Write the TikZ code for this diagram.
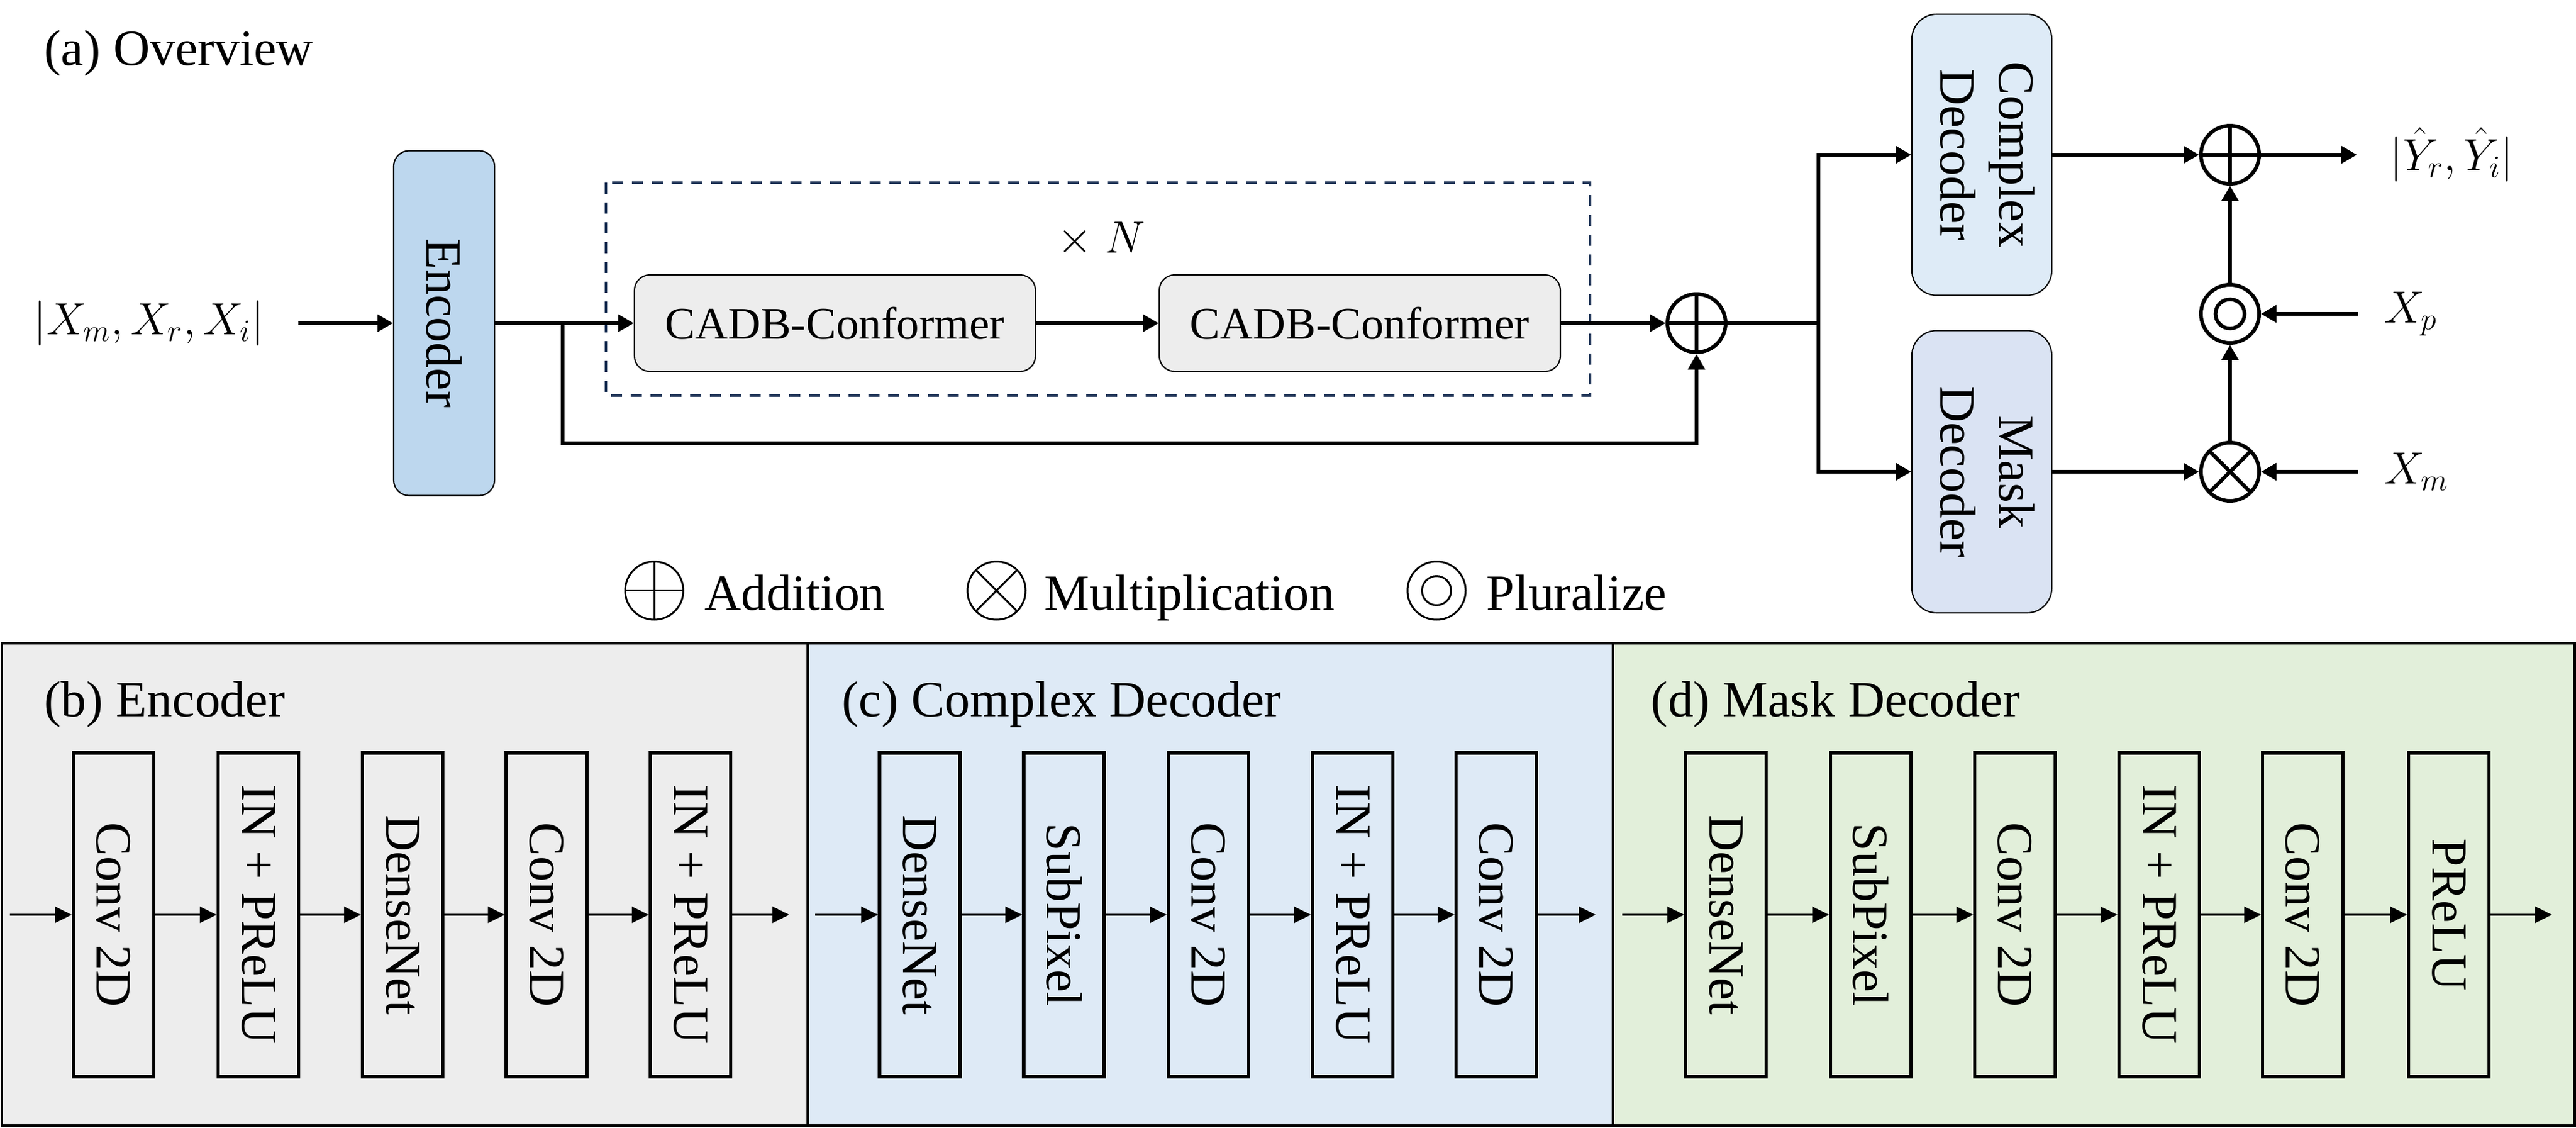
\documentclass[tikz,border=0pt]{standalone}
\usepackage{fontspec}
\setmainfont{Liberation Serif}
\usepackage{graphicx}
\usetikzlibrary{arrows.meta}

\definecolor{encblue}{HTML}{BDD7EE}
\definecolor{cadbgray}{HTML}{EDEDED}
\definecolor{cxblue}{HTML}{DEEBF7}
\definecolor{mkblue}{HTML}{DAE3F3}
\definecolor{dashnavy}{HTML}{1F3457}
\definecolor{panelgray}{HTML}{EDEDED}
\definecolor{panelblue}{HTML}{DEEAF6}
\definecolor{panelgreen}{HTML}{E2EFDA}

\newcommand{\txtbig}{\fontsize{23.3}{27}\selectfont}
\newcommand{\txtmid}{\fontsize{20.8}{25}\selectfont}
\newcommand{\txtmath}{\fontsize{20.74}{25}\selectfont}

\tikzset{
    flow/.style={line width=1.7pt, -{Triangle[length=0.25cm,width=0.27cm]}},
    thinflow/.style={line width=0.9pt, -{Triangle[length=0.27cm,width=0.26cm]}},
    roundbox/.style={draw, line width=0.6pt, rounded corners=0.25cm, inner sep=0pt},
    blk/.style={draw, line width=1.5pt, minimum width=1.3cm, minimum height=5.23cm, inner sep=0pt},
    ttl/.style={anchor=base west, inner sep=0pt},
    opcirc/.style={circle, draw, minimum size=0.94cm, inner sep=0pt},
    addop/.style={opcirc, line width=#1, path picture={\draw[line width=#1] (path picture bounding box.north) -- (path picture bounding box.south) (path picture bounding box.west) -- (path picture bounding box.east);}},
    addop/.default=1.7pt,
    mulop/.style={opcirc, line width=#1, path picture={\draw[line width=#1] (path picture bounding box.north west) -- (path picture bounding box.south east) (path picture bounding box.north east) -- (path picture bounding box.south west);}},
    mulop/.default=1.7pt,
    plop/.style={opcirc, line width=#1, path picture={\draw[line width=#1] (path picture bounding box.center) circle (0.235cm);}},
    plop/.default=1.7pt,
    dashbox/.style={draw=dashnavy, line width=1.1pt, dash pattern=on 0.18cm off 0.14cm}
}

\begin{document}
\begin{tikzpicture}[font=\txtbig]
    \useasboundingbox (0,0) rectangle (41.62,-18.22);

    \node[ttl] (ttla) at (0.71,-1.06) {(a) Overview};
    \node[anchor=east, inner xsep=0.55cm, font=\txtmath] (inp) at (4.82,-5.22) {$|X_m, X_r, X_i|$};
    \node[roundbox, fill=encblue, minimum width=1.63cm, minimum height=5.57cm] (enc) at (7.175,-5.22) {\rotatebox{-90}{Encoder}};
    \draw[dashbox] (9.79,-2.95) rectangle (25.69,-6.39);
    \node[font=\txtmath] (rep) at (17.79,-3.87) {$\times\;N$};
    \node[roundbox, fill=cadbgray, minimum width=6.48cm, minimum height=1.56cm, font=\txtmid] (cadbA) at (13.49,-5.22) {CADB-Conformer};
    \node[roundbox, fill=cadbgray, minimum width=6.48cm, minimum height=1.56cm, font=\txtmid] (cadbB) at (21.97,-5.22) {CADB-Conformer};
    \node[addop] (sumA) at (27.41,-5.22) {};
    \coordinate (brA) at (9.09,-5.22);
    \coordinate (loopA) at (9.09,-7.16);
    \coordinate (brB) at (29.38,-5.22);

    \draw[flow] (inp.east) -- (enc.west);
    \draw[flow] (enc.east) -- (cadbA.west);
    \draw[flow] (brA) -- (loopA) -| (sumA.south);
    \draw[flow] (cadbA.east) -- (cadbB.west);
    \draw[flow] (cadbB.east) -- (sumA.west);
    \draw[line width=1.7pt] (sumA.east) -- (brB);

    \node[roundbox, rounded corners=0.4cm, fill=cxblue, minimum width=2.26cm, minimum height=4.54cm] (cxdec) at (32.02,-2.50) {\rotatebox{-90}{\begin{tabular}{@{}c@{}}Complex\\Decoder\end{tabular}}};
    \node[roundbox, rounded corners=0.4cm, fill=mkblue, minimum width=2.26cm, minimum height=4.56cm] (mkdec) at (32.02,-7.62) {\rotatebox{-90}{\begin{tabular}{@{}c@{}}Mask\\Decoder\end{tabular}}};
    \draw[flow] (brB) |- (cxdec.west);
    \draw[flow] (brB) |- (mkdec.west);

    \node[addop] (sumB) at (36.03,-2.50) {};
    \node[plop] (plB) at (36.03,-5.07) {};
    \node[mulop] (mulB) at (36.03,-7.62) {};
    \node[anchor=west, inner xsep=0.53cm, font=\txtmath] (out) at (38.08,-2.50) {$|\hat{Y}_r, \hat{Y}_i|$};
    \node[anchor=west, inner xsep=0.42cm, font=\txtmath] (xp) at (38.10,-5.07) {$X_p$};
    \node[anchor=west, inner xsep=0.42cm, font=\txtmath] (xm) at (38.10,-7.62) {$X_m$};
    \draw[flow] (cxdec.east) -- (sumB.west);
    \draw[flow] (sumB.east) -- (out.west);
    \draw[flow] (mkdec.east) -- (mulB.west);
    \draw[flow] (xm.west) -- (mulB.east);
    \draw[flow] (xp.west) -- (plB.east);
    \draw[flow] (mulB.north) -- (plB.south);
    \draw[flow] (plB.north) -- (sumB.south);

    \node[addop=0.85pt] (lgadd) at (10.57,-9.54) {};
    \node[ttl] (lgaddt) at (11.38,-9.85) {Addition};
    \node[mulop=0.85pt] (lgmul) at (16.10,-9.54) {};
    \node[ttl] (lgmult) at (16.87,-9.85) {Multiplication};
    \node[plop=0.85pt] (lgpl) at (23.21,-9.54) {};
    \node[ttl] (lgplt) at (24.01,-9.85) {Pluralize};

    \fill[panelgray] (0.03,-10.39) rectangle (13.05,-18.18);
    \fill[panelblue] (13.05,-10.39) rectangle (26.06,-18.18);
    \fill[panelgreen] (26.06,-10.39) rectangle (41.59,-18.18);
    \draw[line width=1.4pt] (0.03,-10.39) rectangle (41.59,-18.18);
    \draw[line width=1.4pt] (13.05,-10.39) -- (13.05,-18.18);
    \draw[line width=1.4pt] (26.06,-10.39) -- (26.06,-18.18);

    \node[ttl] (ttlb) at (0.71,-11.57) {(b) Encoder};
    \node[blk] (encA) at (1.835,-14.775) {\rotatebox{-90}{Conv 2D}};
    \node[blk] (encB) at (4.175,-14.775) {\rotatebox{-90}{IN + PReLU}};
    \node[blk] (encC) at (6.505,-14.775) {\rotatebox{-90}{DenseNet}};
    \node[blk] (encD) at (8.83,-14.775) {\rotatebox{-90}{Conv 2D}};
    \node[blk] (encE) at (11.155,-14.775) {\rotatebox{-90}{IN + PReLU}};
    \coordinate (encIn) at (0.16,-14.775);
    \coordinate (encOut) at (12.75,-14.775);
    \draw[thinflow] (encIn) -- (encA);
    \draw[thinflow] (encA) -- (encB);
    \draw[thinflow] (encB) -- (encC);
    \draw[thinflow] (encC) -- (encD);
    \draw[thinflow] (encD) -- (encE);
    \draw[thinflow] (encE) -- (encOut);

    \node[ttl] (ttlc) at (13.60,-11.57) {(c) Complex Decoder};
    \node[blk] (cxA) at (14.86,-14.775) {\rotatebox{-90}{DenseNet}};
    \node[blk] (cxB) at (17.19,-14.775) {\rotatebox{-90}{SubPixel}};
    \node[blk] (cxC) at (19.525,-14.775) {\rotatebox{-90}{Conv 2D}};
    \node[blk] (cxD) at (21.855,-14.775) {\rotatebox{-90}{IN + PReLU}};
    \node[blk] (cxE) at (24.175,-14.775) {\rotatebox{-90}{Conv 2D}};
    \coordinate (cxIn) at (13.17,-14.775);
    \coordinate (cxOut) at (25.78,-14.775);
    \draw[thinflow] (cxIn) -- (cxA);
    \draw[thinflow] (cxA) -- (cxB);
    \draw[thinflow] (cxB) -- (cxC);
    \draw[thinflow] (cxC) -- (cxD);
    \draw[thinflow] (cxD) -- (cxE);
    \draw[thinflow] (cxE) -- (cxOut);

    \node[ttl] (ttld) at (26.67,-11.57) {(d) Mask Decoder};
    \node[blk] (mkA) at (27.885,-14.775) {\rotatebox{-90}{DenseNet}};
    \node[blk] (mkB) at (30.225,-14.775) {\rotatebox{-90}{SubPixel}};
    \node[blk] (mkC) at (32.555,-14.775) {\rotatebox{-90}{Conv 2D}};
    \node[blk] (mkD) at (34.885,-14.775) {\rotatebox{-90}{IN + PReLU}};
    \node[blk] (mkE) at (37.205,-14.775) {\rotatebox{-90}{Conv 2D}};
    \node[blk] (mkF) at (39.565,-14.775) {\rotatebox{-90}{PReLU}};
    \coordinate (mkIn) at (26.21,-14.775);
    \coordinate (mkOut) at (41.23,-14.775);
    \draw[thinflow] (mkIn) -- (mkA);
    \draw[thinflow] (mkA) -- (mkB);
    \draw[thinflow] (mkB) -- (mkC);
    \draw[thinflow] (mkC) -- (mkD);
    \draw[thinflow] (mkD) -- (mkE);
    \draw[thinflow] (mkE) -- (mkF);
    \draw[thinflow] (mkF) -- (mkOut);
\end{tikzpicture}
\end{document}
